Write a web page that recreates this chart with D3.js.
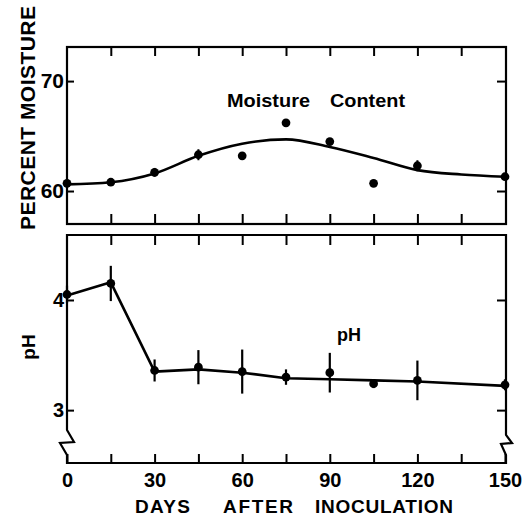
<!DOCTYPE html>
<html>
<head>
<meta charset="utf-8">
<script src="https://cdn.jsdelivr.net/npm/d3@7"></script>
<style>
  body { margin: 0; background: #fff; }
  svg text { font-family: "Liberation Sans", Arial, sans-serif; font-weight: bold; fill: #000; }
</style>
</head>
<body>
<svg id="chart" width="528" height="518"></svg>
<script>
// sampling days
var days = [0, 15, 30, 45, 60, 75, 90, 105, 120, 150];
// percent moisture, measured points and their small spread
var moisture = [60.7, 60.8, 61.7, 63.3, 63.2, 66.2, 64.5, 60.7, 62.3, 61.3];
var moistureErr = [0.3, 0.3, 0.4, 0.5, 0, 0.3, 0.3, 0.2, 0.5, 0.3];
// hand-fitted moisture curve
var fitDays = [0, 15, 30, 45, 60, 75, 90, 105, 120, 135, 150];
var moistureFit = [60.6, 60.8, 61.6, 63.2, 64.3, 64.7, 64.0, 63.0, 61.9, 61.5, 61.3];
// pH, measured points, error bars and the drawn line
var ph = [4.05, 4.15, 3.36, 3.39, 3.35, 3.30, 3.34, 3.24, 3.27, 3.23];
var phErr = [0.08, 0.16, 0.10, 0.155, 0.2, 0.07, 0.18, 0.04, 0.18, 0.05];
var phFit = [4.04, 4.16, 3.35, 3.37, 3.34, 3.29, 3.28, 3.27, 3.26, 3.22];
var xTicks = [0, 15, 30, 45, 60, 75, 90, 105, 120, 135, 150];
var moistureTicks = [60, 70];
var phTicks = [3, 4];

var svg = d3.select("#chart");

var x = d3.scaleLinear().domain([0, 150]).range([67, 505]);
var yM = d3.scaleLinear().domain([57, 73.1]).range([224, 47]);
var yP = d3.scaleLinear().domain([2.52, 4.59]).range([463, 235]);

var left = 67, right = 506;

function ticks(g){
  g.select(".domain").remove();
  g.selectAll(".tick line").attr("stroke", "#000").attr("stroke-width", 2);
}

function label(sel, size){
  sel.style("font-size", size + "px").style("font-family", "Liberation Sans").style("font-weight", "bold");
}

// ---- top panel: moisture ----
var mPanel = svg.append("g");

mPanel.append("rect")
  .attr("x", left).attr("y", 47)
  .attr("width", right - left).attr("height", 224 - 47)
  .attr("fill", "none").attr("stroke", "#000").attr("stroke-width", 2.2);

mPanel.append("g").attr("transform", "translate(0,47)")
  .call(d3.axisTop(x).tickValues(xTicks.slice(1, -1)).tickSize(-9).tickFormat(""))
  .call(ticks);
mPanel.append("g").attr("transform", "translate(0,224)")
  .call(d3.axisBottom(x).tickValues(xTicks.slice(1, -1)).tickSize(-10).tickFormat(""))
  .call(ticks);
mPanel.append("g").attr("transform", "translate(" + left + ",0)")
  .call(d3.axisLeft(yM).tickValues(moistureTicks).tickSize(-7).tickPadding(3).tickFormat(d3.format("d")))
  .call(ticks)
  .selectAll("text").call(label, 21);
mPanel.append("g").attr("transform", "translate(" + right + ",0)")
  .call(d3.axisRight(yM).tickValues(moistureTicks).tickSize(-9).tickFormat(""))
  .call(ticks);

mPanel.append("path")
  .datum(fitDays.map(function(d, i){ return [d, moistureFit[i]]; }))
  .attr("fill", "none").attr("stroke", "#000").attr("stroke-width", 2.6)
  .attr("d", d3.line().x(function(d){ return x(d[0]); }).y(function(d){ return yM(d[1]); }).curve(d3.curveMonotoneX));

var mPts = mPanel.selectAll(".mpt")
  .data(days.map(function(d, i){ return {day: d, v: moisture[i], e: moistureErr[i]}; }))
  .enter().append("g").attr("class", "mpt");
mPts.append("line")
  .attr("x1", function(d){ return x(d.day); }).attr("x2", function(d){ return x(d.day); })
  .attr("y1", function(d){ return yM(d.v - d.e); }).attr("y2", function(d){ return yM(d.v + d.e); })
  .attr("stroke", "#000").attr("stroke-width", 2);
mPts.append("path")
  .attr("transform", function(d){ return "translate(" + x(d.day) + "," + yM(d.v) + ")"; })
  .attr("d", d3.symbol().type(d3.symbolCircle).size(60));

mPanel.append("text").attr("x", 227).attr("y", 107)
  .attr("textLength", 83).attr("lengthAdjust", "spacingAndGlyphs")
  .style("font-size", "18px").text("Moisture");
mPanel.append("text").attr("x", 330).attr("y", 107)
  .attr("textLength", 75).attr("lengthAdjust", "spacingAndGlyphs")
  .style("font-size", "18px").text("Content");

svg.append("text")
  .attr("transform", "translate(35,118) rotate(-90)")
  .attr("text-anchor", "middle")
  .attr("textLength", 224).attr("lengthAdjust", "spacing")
  .style("font-size", "21px").text("PERCENT MOISTURE");

// ---- bottom panel: pH ----
var pPanel = svg.append("g");

var frame = d3.path();
frame.moveTo(left, 430);
frame.lineTo(left, 235);
frame.lineTo(right, 235);
frame.lineTo(right, 435);
frame.lineTo(right + 6, 443);
frame.lineTo(right - 5, 444);
frame.lineTo(right, 455);
frame.lineTo(right, 463);
frame.lineTo(left, 463);
frame.lineTo(left, 455);
frame.lineTo(left - 7, 443);
frame.lineTo(left + 7, 442);
frame.closePath();
pPanel.append("path").attr("d", frame.toString())
  .attr("fill", "none").attr("stroke", "#000").attr("stroke-width", 2.2).attr("stroke-linejoin", "miter");

pPanel.append("g").attr("transform", "translate(0,235)")
  .call(d3.axisTop(x).tickValues(xTicks.slice(1, -1)).tickSize(-10).tickFormat(""))
  .call(ticks);
pPanel.append("g").attr("transform", "translate(0,463)")
  .call(d3.axisBottom(x).tickValues(xTicks).tickSize(-9).tickPadding(10)
    .tickFormat(function(d){ return d % 30 === 0 ? d : ""; }))
  .call(ticks)
  .selectAll("text").call(label, 20);
pPanel.append("g").attr("transform", "translate(" + left + ",0)")
  .call(d3.axisLeft(yP).tickValues(phTicks).tickSize(-7).tickPadding(3).tickFormat(d3.format("d")))
  .call(ticks)
  .selectAll("text").call(label, 20);
pPanel.append("g").attr("transform", "translate(" + right + ",0)")
  .call(d3.axisRight(yP).tickValues(phTicks).tickSize(-9).tickFormat(""))
  .call(ticks);

pPanel.append("path")
  .datum(days.map(function(d, i){ return [d, phFit[i]]; }))
  .attr("fill", "none").attr("stroke", "#000").attr("stroke-width", 2.6)
  .attr("stroke-linejoin", "round")
  .attr("d", d3.line().x(function(d){ return x(d[0]); }).y(function(d){ return yP(d[1]); }));

var pPts = pPanel.selectAll(".ppt")
  .data(days.map(function(d, i){ return {day: d, v: ph[i], e: phErr[i]}; }))
  .enter().append("g").attr("class", "ppt");
pPts.append("line")
  .attr("x1", function(d){ return x(d.day); }).attr("x2", function(d){ return x(d.day); })
  .attr("y1", function(d){ return yP(d.v - d.e); }).attr("y2", function(d){ return yP(d.v + d.e); })
  .attr("stroke", "#000").attr("stroke-width", 2.2);
pPts.append("path")
  .attr("transform", function(d){ return "translate(" + x(d.day) + "," + yP(d.v) + ")"; })
  .attr("d", d3.symbol().type(d3.symbolCircle).size(60));

pPanel.append("text").attr("x", 337).attr("y", 341)
  .style("font-size", "18px").text("pH");

svg.append("text")
  .attr("transform", "translate(35,347) rotate(-90)")
  .attr("text-anchor", "middle")
  .style("font-size", "19px").text("pH");

var xWords = [["DAYS", 135, 55], ["AFTER", 223, 70], ["INOCULATION", 315, 138]];
svg.selectAll(".xword").data(xWords).enter().append("text")
  .attr("class", "xword")
  .attr("x", function(d){ return d[1]; }).attr("y", 513)
  .attr("textLength", function(d){ return d[2]; }).attr("lengthAdjust", "spacing")
  .style("font-size", "19px").text(function(d){ return d[0]; });
</script>
</body>
</html>
